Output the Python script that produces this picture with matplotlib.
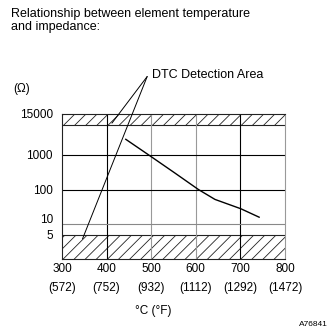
import numpy as np
import matplotlib
matplotlib.use("Agg")
import matplotlib.pyplot as plt
import matplotlib.transforms as mtransforms

plt.rcParams['font.family'] = ['Liberation Sans', 'DejaVu Sans']
plt.rcParams['hatch.linewidth'] = 0.6

# element temperature (deg C) vs impedance (ohm)
temp_c = [443, 494, 553, 606, 643, 701, 742]
impedance = [2800, 1000, 300, 100, 52, 28, 16]

x_ticks_c = [300, 400, 500, 600, 700, 800]
x_ticks_f = [572, 752, 932, 1112, 1292, 1472]
y_ticks = [15000, 1000, 100, 10, 5]
y_min = 1

# DTC detection bands
low_limit = 5
high_band = 7000

fig = plt.figure(figsize=(3.3, 3.3), dpi=100)
ax = fig.add_axes([62/330, 71/330, 223/330, 145/330])
ax.set_yscale('log')
ax.set_xlim(x_ticks_c[0], x_ticks_c[-1])
ax.set_ylim(y_min, y_ticks[0])

# hatched detection areas
ax.axhspan(y_min, low_limit, facecolor='none', edgecolor='#222222', hatch='///', linewidth=0, zorder=1)
ax.axhspan(high_band, y_ticks[0], facecolor='none', edgecolor='#222222', hatch='///', linewidth=0, zorder=1)
ax.axhline(low_limit, color='#222222', lw=0.8, zorder=2)
ax.axhline(high_band, color='#222222', lw=0.8, zorder=2)

# grid
vcols = ['black', '#999999', '#999999', 'black']
for t, c in zip(x_ticks_c[1:-1], vcols):
    ax.axvline(t, color=c, lw=0.8, zorder=2)
hcols = ['black', 'black', '#888888']
for t, c in zip(y_ticks[1:4], hcols):
    ax.axhline(t, color=c, lw=0.8, zorder=2)

ax.plot(temp_c, impedance, color='black', lw=1.0, zorder=3)

for side in ['left', 'bottom', 'top']:
    ax.spines[side].set_color('#222222')
    ax.spines[side].set_linewidth(0.8)
ax.spines['right'].set_color('#999999')
ax.spines['right'].set_linewidth(0.8)

ax.minorticks_off()
ax.set_yticks(y_ticks, labels=[str(v) for v in y_ticks])
ax.set_xticks(x_ticks_c, labels=[f"{c}\n({f})" for c, f in zip(x_ticks_c, x_ticks_f)])
ax.tick_params(axis='both', length=0, labelsize=8.5)
ax.tick_params(axis='y', pad=6.5)
ax.tick_params(axis='x', pad=3)
for lab in ax.get_xticklabels():
    lab.set_linespacing(1.75)
# nudge the "10" label up so it clears the "5"
ylabs = ax.get_yticklabels()
ylabs[3].set_transform(ylabs[3].get_transform() +
                       mtransforms.ScaledTranslation(0, 6/100, fig.dpi_scale_trans))

# DTC annotation
apex = (491, 1.8e5)
for target in [(412, 8200), (346, 3.8)]:
    ax.annotate('', xy=target, xytext=apex, annotation_clip=False,
                arrowprops=dict(arrowstyle='-', color='black', lw=0.7,
                                shrinkA=0, shrinkB=0))
ax.text(502, 2.0e5, 'DTC Detection Area', fontsize=9, ha='left', va='center',
        clip_on=False)

fig.text(11/330, 1 - 8/330, 'Relationship between element temperature\nand impedance:',
         fontsize=9, ha='left', va='top', linespacing=1.1)
fig.text(13/330, 1 - 89/330, '(Ω)', fontsize=8.5, ha='left', va='center')
fig.text(153/330, 1 - 311/330, '°C (°F)', fontsize=8.5, ha='center', va='center')
fig.text(328/330, 1 - 325/330, 'A76841', fontsize=6, ha='right', va='center')

fig.savefig('out.png', dpi=100)
